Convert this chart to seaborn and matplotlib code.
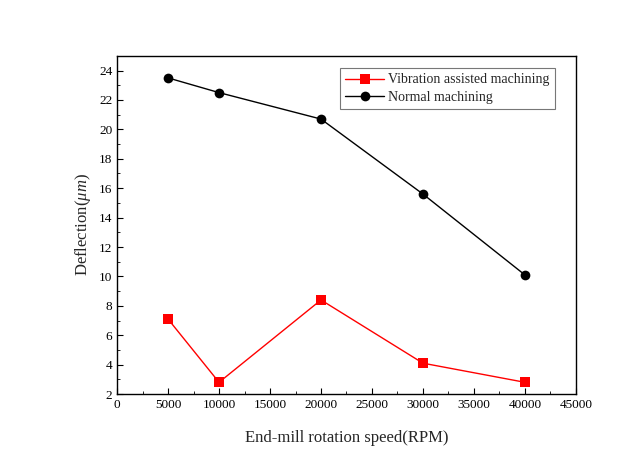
import pandas as pd
import numpy as np
import matplotlib.pyplot as plt
import seaborn as sns
from matplotlib.ticker import MultipleLocator

# Data
rpm = [5000, 10000, 20000, 30000, 40000]
vibration = [7.1, 2.8, 8.4, 4.1, 2.8]
normal = [23.5, 22.5, 20.7, 15.6, 10.1]

df = pd.DataFrame({
    "rpm": rpm * 2,
    "deflection": vibration + normal,
    "series": ["Vibration assisted machining"] * len(rpm) + ["Normal machining"] * len(rpm),
})

sns.set_style("ticks")
plt.rcParams['font.family'] = ['Liberation Serif', 'DejaVu Serif']
plt.rcParams['mathtext.fontset'] = 'custom'
plt.rcParams['mathtext.it'] = 'Liberation Serif:italic'

fig = plt.figure(figsize=(6.26, 4.54), dpi=100)
ax = fig.add_axes([0.187, 0.132, 0.733, 0.745])

sns.lineplot(data=df, x="rpm", y="deflection", hue="series", style="series",
             palette={"Vibration assisted machining": "#ff0000", "Normal machining": "black"},
             markers={"Vibration assisted machining": "s", "Normal machining": "o"},
             dashes=False, markersize=7, linewidth=1, markeredgewidth=0, ax=ax)

ax.set_xlim(0, 45000)
ax.set_ylim(2, 25)
ax.xaxis.set_major_locator(MultipleLocator(5000))
ax.xaxis.set_minor_locator(MultipleLocator(2500))
ax.yaxis.set_major_locator(MultipleLocator(2))
ax.yaxis.set_minor_locator(MultipleLocator(1))
ax.tick_params(which='both', direction='in', labelsize=9.5, colors='black')
ax.tick_params(which='major', length=4)
ax.tick_params(which='minor', length=2)
for s in ax.spines.values():
    s.set_visible(True)
    s.set_linewidth(1)
    s.set_color('black')

ax.set_xlabel("End-mill rotation speed(RPM)", fontsize=12, labelpad=14)
ax.set_ylabel(r"Deflection($\mu m$)", fontsize=12, labelpad=4)

leg = ax.legend(loc='upper right', bbox_to_anchor=(0.97, 0.985), fontsize=10,
                frameon=True, fancybox=False, handlelength=2.8, borderpad=0.4,
                labelspacing=0.3, handletextpad=0.3)
leg.get_frame().set_edgecolor('#555555')
leg.get_frame().set_linewidth(0.8)

fig.savefig("out.png", dpi=100)
